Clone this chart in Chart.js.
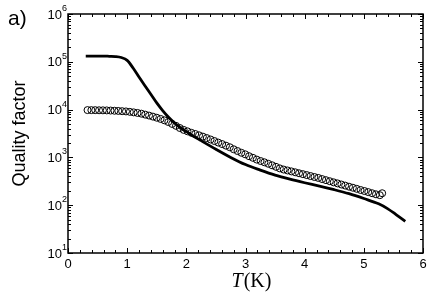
<!DOCTYPE html>
<html>
<head>
<meta charset="utf-8">
<script src="https://cdn.jsdelivr.net/npm/chart.js@4/dist/chart.umd.min.js"></script>
<style>
  html, body { margin: 0; padding: 0; background: #fff; }
  #wrap { width: 436px; height: 292px; position: relative; }
</style>
</head>
<body>
<div id="wrap"><canvas id="c" width="436" height="292"></canvas></div>
<script>
// ---- data ----
const lineT = [0.30, 0.40, 0.50, 0.60, 0.70, 0.80, 0.90, 1.00, 1.10, 1.20, 1.30, 1.40, 1.50, 1.60, 1.70, 1.80, 1.90, 2.00, 2.10, 2.25, 2.50, 2.75, 3.00, 3.25, 3.50, 3.75, 4.00, 4.25, 4.50, 4.75, 5.00, 5.25, 5.40, 5.55, 5.70];
const lineQ = [131800, 131800, 131800, 131800, 130300, 128800, 123000, 107200, 74100, 47900, 31600, 20900, 13800, 9550, 6920, 5250, 4170, 3470, 2880, 2240, 1480, 1000, 708, 543, 427, 351, 295, 251, 211, 174, 138, 107, 85, 63, 46];

const circT = [0.330, 0.395, 0.460, 0.525, 0.590, 0.655, 0.720, 0.785, 0.850, 0.915, 0.980, 1.045, 1.110, 1.175, 1.240, 1.305, 1.370, 1.435, 1.500, 1.565, 1.630, 1.695, 1.760, 1.825, 1.890, 1.955, 2.020, 2.085, 2.150, 2.215, 2.280, 2.345, 2.410, 2.475, 2.540, 2.605, 2.670, 2.735, 2.800, 2.865, 2.930, 2.995, 3.060, 3.125, 3.190, 3.255, 3.320, 3.385, 3.450, 3.515, 3.580, 3.645, 3.710, 3.775, 3.840, 3.905, 3.970, 4.035, 4.100, 4.165, 4.230, 4.295, 4.360, 4.425, 4.490, 4.555, 4.620, 4.685, 4.750, 4.815, 4.880, 4.945, 5.010, 5.075, 5.140, 5.205, 5.270, 5.310];
const circQ = [9770, 9750, 9730, 9680, 9660, 9620, 9550, 9460, 9380, 9270, 9160, 8970, 8750, 8510, 8220, 7850, 7500, 7130, 6760, 6380, 5960, 5500, 5010, 4570, 4120, 3760, 3510, 3270, 3090, 2900, 2720, 2540, 2370, 2200, 2040, 1900, 1760, 1630, 1480, 1360, 1250, 1160, 1060, 980, 900, 840, 790, 736, 684, 635, 589, 557, 533, 510, 488, 466, 446, 427, 407, 389, 372, 352, 334, 317, 301, 286, 271, 257, 244, 232, 220, 208, 198, 188, 178, 169, 162, 178];

const xTickValues = [0, 1, 2, 3, 4, 5, 6];
const yTickExponents = [1, 2, 3, 4, 5, 6];
const xLabel = ['T', '(K)'];
const yLabel = 'Quality factor';
const panelLabel = 'a)';

const SANS = '"Liberation Sans", Arial, Helvetica, sans-serif';
const SERIF = '"Liberation Serif", "Times New Roman", serif';

const framePlugin = {
  id: 'frame',
  afterDraw(chart) {
    const ctx = chart.ctx;
    const { left, right, top, bottom } = chart.chartArea;
    const xs = chart.scales.x, ys = chart.scales.y;
    ctx.save();
    ctx.strokeStyle = '#000';
    ctx.fillStyle = '#000';
    ctx.lineWidth = 1.5;
    ctx.strokeRect(left, top, right - left, bottom - top);
    ctx.lineWidth = 1;
    const xmin = xTickValues[0], xmax = xTickValues[xTickValues.length - 1];
    for (let i = 0; i <= (xmax - xmin) * 5; i++) {
      const v = xmin + i / 5;
      const px = Math.round(xs.getPixelForValue(v)) + 0.5;
      const len = (i % 5 === 0) ? 5 : 3;
      ctx.beginPath();
      ctx.moveTo(px, bottom); ctx.lineTo(px, bottom - len);
      ctx.moveTo(px, top); ctx.lineTo(px, top + len);
      ctx.stroke();
    }
    for (let k = 0; k < yTickExponents.length; k++) {
      const e = yTickExponents[k];
      for (let m = 1; m <= 9; m++) {
        if (k === yTickExponents.length - 1 && m > 1) break;
        const val = m * Math.pow(10, e);
        const py = Math.round(ys.getPixelForValue(val)) + 0.5;
        const len = (m === 1) ? 5 : 3;
        ctx.beginPath();
        ctx.moveTo(left, py); ctx.lineTo(left + len, py);
        ctx.moveTo(right, py); ctx.lineTo(right - len, py);
        ctx.stroke();
      }
    }
    for (const e of yTickExponents) {
      const py = ys.getPixelForValue(Math.pow(10, e));
      ctx.font = '13px ' + SANS;
      ctx.textAlign = 'right';
      ctx.textBaseline = 'middle';
      ctx.fillText('10', left - 6, py + 1);
      ctx.font = '9px ' + SANS;
      ctx.textAlign = 'left';
      ctx.textBaseline = 'alphabetic';
      ctx.fillText(String(e), left - 6, py - 3);
    }
    ctx.save();
    ctx.translate(20, (top + bottom) / 2);
    ctx.rotate(-Math.PI / 2);
    ctx.font = '18px ' + SANS;
    ctx.textAlign = 'center';
    ctx.textBaseline = 'middle';
    ctx.fillText(yLabel, 0, 0);
    ctx.restore();
    ctx.textBaseline = 'alphabetic';
    ctx.textAlign = 'left';
    ctx.font = 'italic 20px ' + SERIF;
    const w1 = ctx.measureText(xLabel[0]).width;
    ctx.font = '20px ' + SERIF;
    const w2 = ctx.measureText(xLabel[1]).width;
    const cx = 251, base = 287;
    const x0 = cx - (w1 + w2) / 2;
    ctx.font = 'italic 20px ' + SERIF;
    ctx.fillText(xLabel[0], x0, base);
    ctx.font = '20px ' + SERIF;
    ctx.fillText(xLabel[1], x0 + w1 + 1, base);
    ctx.font = '21px ' + SANS;
    ctx.fillText(panelLabel, 8, 25);
    ctx.restore();
  }
};

new Chart(document.getElementById('c'), {
  type: 'scatter',
  data: {
    datasets: [
      {
        label: 'line',
        data: lineT.map((t, i) => ({ x: t, y: lineQ[i] })),
        showLine: true,
        borderColor: '#000',
        borderWidth: 2.8,
        pointRadius: 0,
        cubicInterpolationMode: 'monotone',
        fill: false,
        order: 1
      },
      {
        label: 'circles',
        data: circT.map((t, i) => ({ x: t, y: circQ[i] })),
        showLine: false,
        pointStyle: 'circle',
        pointRadius: 3.5,
        pointBorderWidth: 1,
        pointBorderColor: '#000',
        pointBackgroundColor: 'rgba(255,255,255,0)',
        order: 2
      }
    ]
  },
  options: {
    responsive: false,
    animation: false,
    devicePixelRatio: 1,
    layout: { padding: { left: 0, top: 14, right: 13, bottom: 0 } },
    plugins: { legend: { display: false }, tooltip: { enabled: false } },
    scales: {
      x: {
        type: 'linear',
        min: 0, max: 6,
        afterBuildTicks(s) { s.ticks = xTickValues.map(v => ({ value: v })); },
        afterFit(s) { s.height = 39; },
        grid: { display: false, drawTicks: false },
        border: { display: false },
        ticks: {
          color: '#000',
          font: { family: SANS, size: 13 },
          padding: 4,
          maxRotation: 0,
          callback: v => String(v)
        }
      },
      y: {
        type: 'logarithmic',
        min: 10, max: 1e6,
        afterFit(s) { s.width = 68; },
        grid: { display: false, drawTicks: false },
        border: { display: false },
        ticks: { display: false }
      }
    }
  },
  plugins: [framePlugin]
});
</script>
</body>
</html>
